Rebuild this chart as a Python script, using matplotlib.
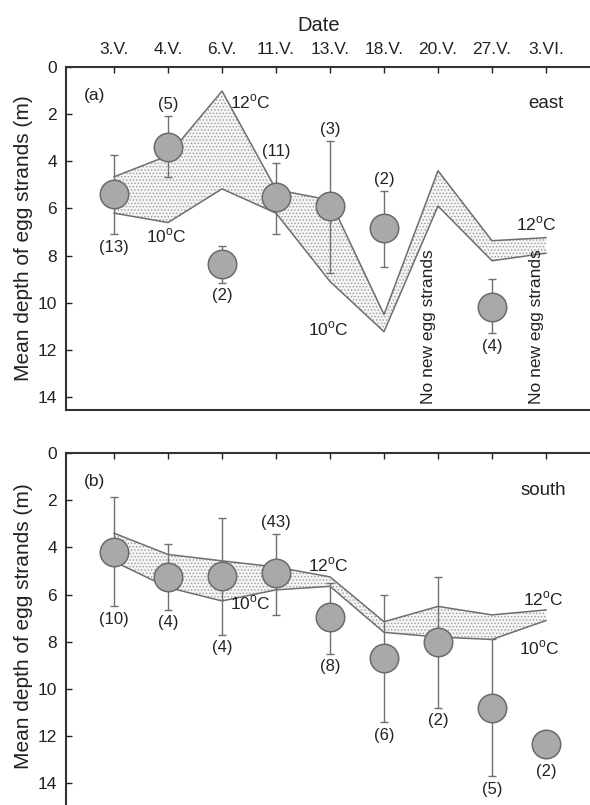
import numpy as np
import matplotlib
matplotlib.use("Agg")
import matplotlib.pyplot as plt

plt.rcParams['font.family'] = ['Liberation Sans', 'DejaVu Sans']
plt.rcParams['hatch.color'] = '#8a8a8a'
plt.rcParams['hatch.linewidth'] = 0.6

nan = np.nan

# ============================================================
# DATOS
# ============================================================
dates = ['3.V.', '4.V.', '6.V.', '11.V.', '13.V.', '18.V.', '20.V.', '27.V.', '3.VI.']

# (a) east
east_mean = [5.38, 3.38, 8.35, 5.5, 5.9, 6.82, nan, 10.17, nan]
east_top = [3.73, 2.07, 7.6, 4.07, 3.14, 5.25, nan, 8.98, nan]
east_bot = [7.1, 4.66, 9.15, 7.07, 8.73, 8.47, nan, 11.3, nan]
east_n = ['(13)', '(5)', '(2)', '(11)', '(3)', '(2)', '', '(4)', '']
east_n_side = ['below', 'above', 'below', 'above', 'above', 'above', '', 'below', '']
east_12 = [4.66, 3.76, 1.02, 5.2, 5.65, 10.5, 4.4, 7.37, 7.24]
east_10 = [6.2, 6.6, 5.17, 6.2, 9.1, 11.23, 5.9, 8.22, 7.9]
east_no_data = ['20.V.', '3.VI.']

# (b) south
south_mean = [4.2, 5.25, 5.2, 5.1, 6.95, 8.7, 8.0, 10.8, 12.33]
south_top = [1.87, 3.85, 2.75, 3.43, 5.5, 6.0, 5.25, 7.9, 12.2]
south_bot = [6.5, 6.65, 7.7, 6.86, 8.5, 11.4, 10.8, 13.7, 12.4]
south_n = ['(10)', '(4)', '(4)', '(43)', '(8)', '(6)', '(2)', '(5)', '(2)']
south_n_side = ['below', 'below', 'below', 'above', 'below', 'below', 'below', 'below', 'below']
south_12 = [3.4, 4.3, 4.57, 4.83, 5.25, 7.15, 6.5, 6.86, 6.65]
south_10 = [4.6, 5.7, 6.27, 5.8, 5.65, 7.6, 7.8, 7.9, 7.1]

TXT = '#222222'
LINE = '#6e6e6e'
FS = 12.5

fig = plt.figure(figsize=(5.9, 8.05), dpi=100)
ax1 = fig.add_axes([0.1119, 0.4907, 0.8949, 0.4261])
ax2 = fig.add_axes([0.1119, -0.0113, 0.8949, 0.4486])


def panel(ax, mean, top, bot, n, side, t12, t10, ymax):
    x = np.arange(len(dates))
    mean = np.array(mean)
    top = np.array(top)
    bot = np.array(bot)

    # banda de temperatura
    ax.fill_between(x, t12, t10, facecolor='#f4f4f4', edgecolor='#9a9a9a',
                    hatch='.....', linewidth=0, zorder=1)
    ax.plot(x, t12, color=LINE, lw=1.1, zorder=2)
    ax.plot(x, t10, color=LINE, lw=1.1, zorder=2)

    # barras de error y medias
    ax.errorbar(x, mean, yerr=[mean - top, bot - mean], fmt='none',
                ecolor='#707070', elinewidth=1.0, capsize=3, capthick=1.0, zorder=3)
    ax.plot(x, mean, 'o', ms=20.5, mfc='#a9a9a9', mec='#6a6a6a', mew=1.1, zorder=4)

    # número de muestras
    for i in range(len(dates)):
        if not n[i]:
            continue
        if side[i] == 'above':
            ax.annotate(n[i], (x[i], top[i]), xytext=(0, 3), textcoords='offset points',
                        ha='center', va='bottom', fontsize=12, color=TXT)
        else:
            y = max(bot[i], mean[i] + 0.6)
            ax.annotate(n[i], (x[i], y), xytext=(0, -4), textcoords='offset points',
                        ha='center', va='top', fontsize=12, color=TXT)

    ax.set_xlim(-0.89, len(dates) - 1 + 0.89)
    ax.set_ylim(ymax, 0)
    ax.set_yticks(np.arange(0, 15, 2))
    ax.set_xticks(x)
    ax.tick_params(axis='y', direction='in', length=4, width=1, pad=6.5,
                   labelsize=FS, colors=TXT)
    ax.tick_params(axis='x', direction='in', length=4, width=1, bottom=False,
                   top=True, labelbottom=False, colors=TXT)
    for s in ax.spines.values():
        s.set_linewidth(1.5)
        s.set_color('#333333')
    ax.set_ylabel('Mean depth of egg strands (m)', fontsize=15, color=TXT)
    ax.yaxis.set_label_coords(-0.062, 0.5)


panel(ax1, east_mean, east_top, east_bot, east_n, east_n_side, east_12, east_10, 14.55)
panel(ax2, south_mean, south_top, south_bot, south_n, south_n_side, south_12, south_10, 15.3)
ax2.yaxis.set_label_coords(-0.062, 0.5 + 0.3 / 15.3)

# eje de fechas arriba
ax1.tick_params(axis='x', labeltop=True, labelsize=FS, pad=7)
ax1.set_xticklabels(dates)
ax1.xaxis.set_label_position('top')
ax1.set_xlabel('Date', fontsize=14.5, color=TXT, labelpad=8)
ax1.xaxis.label.set_x(0.479)
ax2.set_xticklabels([])

# textos panel (a)
deg12 = '12$^\\mathregular{o}$C'
deg10 = '10$^\\mathregular{o}$C'
ax1.text(-0.56, 1.2, '(a)', fontsize=FS, color=TXT, va='center')
ax1.text(8.0, 1.55, 'east', fontsize=13.5, color=TXT, va='center', ha='center')
ax1.text(2.15, 1.5, deg12, fontsize=FS, color=TXT, va='center')
ax1.text(0.6, 7.15, deg10, fontsize=FS, color=TXT, va='center')
ax1.text(3.6, 11.1, deg10, fontsize=FS, color=TXT, va='center')
ax1.text(7.45, 6.65, deg12, fontsize=FS, color=TXT, va='center')
for d in east_no_data:
    i = dates.index(d)
    ax1.text(i - 0.18, 14.3, 'No new egg strands', rotation=90, fontsize=FS,
             color=TXT, ha='center', va='bottom')

# textos panel (b)
ax2.text(-0.56, 1.2, '(b)', fontsize=FS, color=TXT, va='center')
ax2.text(7.95, 1.6, 'south', fontsize=13.5, color=TXT, va='center', ha='center')
ax2.text(3.6, 4.75, deg12, fontsize=FS, color=TXT, va='center')
ax2.text(2.15, 6.35, deg10, fontsize=FS, color=TXT, va='center')
ax2.text(7.58, 6.2, deg12, fontsize=FS, color=TXT, va='center')
ax2.text(7.5, 8.25, deg10, fontsize=FS, color=TXT, va='center')

fig.savefig('out.png', dpi=100)
